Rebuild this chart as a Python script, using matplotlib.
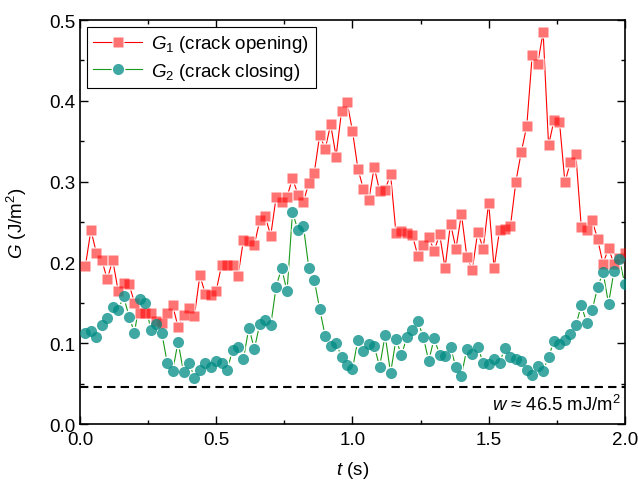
import numpy as np
import matplotlib
matplotlib.use("Agg")
import matplotlib.pyplot as plt
from matplotlib.lines import Line2D
from matplotlib.legend_handler import HandlerTuple
from matplotlib.ticker import MultipleLocator

plt.rcParams['font.family'] = ['Liberation Sans', 'DejaVu Sans']
plt.rcParams['mathtext.fontset'] = 'custom'
plt.rcParams['mathtext.rm'] = 'Liberation Sans'
plt.rcParams['mathtext.it'] = 'Liberation Sans:italic'

# time samples (s)
t = np.linspace(0.02, 2.0, 100)

# G1, crack opening (J/m^2)
g1 = [0.196, 0.240, 0.212, 0.203, 0.179, 0.203, 0.165, 0.175, 0.173, 0.150,
      0.138, 0.138, 0.138, 0.128, 0.125, 0.138, 0.147, 0.120, 0.135, 0.144,
      0.134, 0.184, 0.161, 0.160, 0.165, 0.197, 0.197, 0.197, 0.183, 0.228,
      0.226, 0.222, 0.252, 0.257, 0.233, 0.281, 0.275, 0.281, 0.304, 0.284,
      0.275, 0.298, 0.311, 0.358, 0.340, 0.371, 0.331, 0.387, 0.399, 0.363,
      0.316, 0.291, 0.277, 0.318, 0.288, 0.290, 0.309, 0.236, 0.239, 0.237,
      0.234, 0.208, 0.221, 0.232, 0.214, 0.235, 0.193, 0.248, 0.217, 0.260,
      0.207, 0.191, 0.238, 0.217, 0.274, 0.193, 0.240, 0.241, 0.245, 0.300,
      0.337, 0.369, 0.457, 0.446, 0.485, 0.345, 0.376, 0.374, 0.299, 0.324,
      0.334, 0.244, 0.240, 0.252, 0.229, 0.198, 0.218, 0.198, 0.205, 0.212]

# G2, crack closing (J/m^2)
g2 = [0.113, 0.115, 0.108, 0.122, 0.131, 0.145, 0.141, 0.158, 0.133, 0.113,
      0.155, 0.150, 0.116, 0.124, 0.113, 0.076, 0.065, 0.102, 0.064, 0.076,
      0.057, 0.067, 0.075, 0.070, 0.078, 0.075, 0.067, 0.091, 0.095, 0.081,
      0.119, 0.093, 0.124, 0.129, 0.122, 0.170, 0.193, 0.164, 0.262, 0.240,
      0.245, 0.193, 0.178, 0.142, 0.109, 0.097, 0.100, 0.083, 0.073, 0.068,
      0.104, 0.090, 0.099, 0.096, 0.071, 0.110, 0.063, 0.105, 0.085, 0.108,
      0.116, 0.127, 0.108, 0.078, 0.106, 0.086, 0.084, 0.095, 0.070, 0.060,
      0.093, 0.087, 0.095, 0.076, 0.074, 0.080, 0.076, 0.094, 0.083, 0.080,
      0.078, 0.067, 0.061, 0.072, 0.066, 0.083, 0.103, 0.099, 0.104, 0.111,
      0.122, 0.147, 0.125, 0.141, 0.169, 0.188, 0.149, 0.189, 0.204, 0.173]

w_adh = 0.0455

red = '#FF0000'
teal = '#008B84'
green = '#1A9A1A'

fig = plt.figure(figsize=(6.38, 4.85), dpi=100)
ax = fig.add_axes([0.1254, 0.1237, 0.854, 0.833])

# lines
ax.plot(t, g1, color=red, lw=0.8, zorder=1)
ax.plot(t, g2, color=green, lw=0.8, zorder=1)
# white underlay gives the gap around markers
ax.plot(t, g1, ls='none', marker='s', ms=9, mfc='white', mec='none', zorder=2)
ax.plot(t, g2, ls='none', marker='o', ms=10, mfc='white', mec='none', zorder=2)
ax.plot(t, g1, ls='none', marker='s', ms=7.2, mfc=red, mec='none', alpha=0.55, zorder=3)
ax.plot(t, g2, ls='none', marker='o', ms=8, mfc=teal, mec='none', alpha=0.75, zorder=3)

ax.axhline(w_adh, color='black', lw=1.5, ls=(0, (4, 2.5)), zorder=1)
ax.text(1.985, 0.012, r'$w$ ≈ 46.5 mJ/m$^2$', ha='right', va='bottom', fontsize=13.3)

ax.set_xlim(0, 2.0)
ax.set_ylim(0, 0.5)
ax.xaxis.set_major_locator(MultipleLocator(0.5))
ax.xaxis.set_minor_locator(MultipleLocator(0.25))
ax.yaxis.set_major_locator(MultipleLocator(0.1))
ax.yaxis.set_minor_locator(MultipleLocator(0.05))
ax.set_xticks([0, 0.5, 1.0, 1.5, 2.0], ['0.0', '0.5', '1.0', '1.5', '2.0'])
ax.set_yticks([0, 0.1, 0.2, 0.3, 0.4, 0.5], ['0.0', '0.1', '0.2', '0.3', '0.4', '0.5'])
ax.tick_params(which='both', direction='in', top=True, right=True, labelsize=13.5, width=1)
ax.tick_params(which='major', length=6)
ax.tick_params(which='minor', length=3)
ax.tick_params(axis='x', pad=5)
for s in ax.spines.values():
    s.set_linewidth(1.2)

ax.set_xlabel(r'$t$ (s)', fontsize=13.5, labelpad=8)
ax.set_ylabel(r'$G$ (J/m$^2$)', fontsize=13.5, labelpad=14)

h1 = (Line2D([], [], color=red, lw=0.8, marker='s', ms=9, mfc='white', mec='none'),
      Line2D([], [], ls='none', marker='s', ms=7.2, mfc=red, mec='none', alpha=0.55))
h2 = (Line2D([], [], color=green, lw=0.8, marker='o', ms=10, mfc='white', mec='none'),
      Line2D([], [], ls='none', marker='o', ms=8, mfc=teal, mec='none', alpha=0.75))
leg = ax.legend([h1, h2], [r'$G_1$ (crack opening)', r'$G_2$ (crack closing)'],
                handler_map={tuple: HandlerTuple(ndivide=1)},
                loc='upper left', fontsize=13.5, fancybox=False, edgecolor='black',
                framealpha=1, handlelength=2.6, borderaxespad=0.35,
                borderpad=0.35, labelspacing=0.35, handletextpad=0.5)
leg.get_frame().set_linewidth(0.8)

fig.savefig('out.png', dpi=100)
